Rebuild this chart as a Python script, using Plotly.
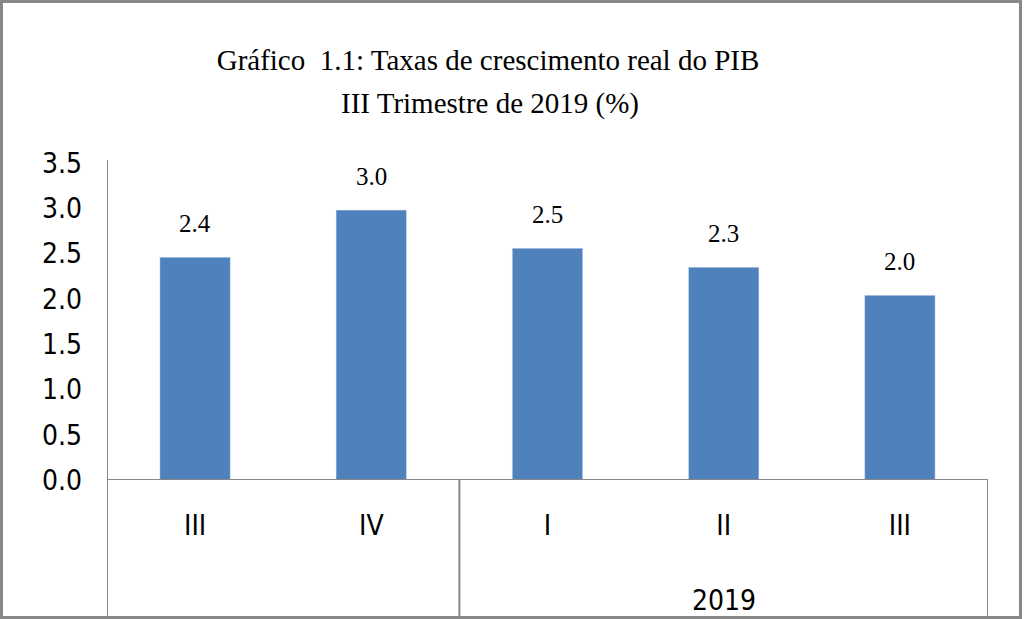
import plotly.graph_objects as go

quarters = ["III", "IV", "I", "II", "III"]
year_label = "2019"
values = [2.46, 2.98, 2.56, 2.35, 2.04]
value_labels = ["2.4", "3.0", "2.5", "2.3", "2.0"]
y_ticks = [0.0, 0.5, 1.0, 1.5, 2.0, 2.5, 3.0, 3.5]

W, H = 1024, 619
ML, MR, MT, MB = 107, 36, 163, 139
PW, PH = W - ML - MR, H - MT - MB
BASE = MT + PH  # pixel row of y=0

narrow = "Liberation Sans Narrow, Arial Narrow, DejaVu Sans Condensed, sans-serif"
serif = "Liberation Serif, Times New Roman, serif"
grey = "#888888"

def py(pix):
    """pixel row -> paper y"""
    return (BASE - pix) / PH

def px(pix):
    """pixel column -> paper x"""
    return (pix - ML) / PW

x = list(range(len(quarters)))

fig = go.Figure(go.Bar(x=x, y=values, marker_color="#4F81BD", width=0.4,
                       hoverinfo="skip"))

for xi, v, t in zip(x, values, value_labels):
    fig.add_annotation(x=xi, y=v, text=t, showarrow=False, yanchor="bottom",
                       yshift=18, font=dict(family=serif, size=25, color="black"))

# year label under group
fig.add_annotation(x=3, xref="x", y=py(600), yref="paper", text=year_label,
                   showarrow=False, yanchor="middle",
                   font=dict(family=narrow, size=28, color="black"))

# title second line
fig.add_annotation(x=px(490), xref="paper", y=py(103), yref="paper",
                   text="III Trimestre de 2019 (%)", showarrow=False, yanchor="middle",
                   font=dict(family=serif, size=29, color="black"))

shapes = [
    dict(type="line", xref="x", yref="y", x0=-0.5, x1=4.5, y0=0, y1=0,
         line=dict(color=grey, width=2)),
    dict(type="line", xref="x", yref="paper", x0=-0.5, x1=-0.5, y0=py(H), y1=py(160),
         line=dict(color=grey, width=2)),
    dict(type="line", xref="x", yref="paper", x0=1.5, x1=1.5, y0=py(H), y1=0,
         line=dict(color=grey, width=2)),
    dict(type="line", xref="x", yref="paper", x0=4.5, x1=4.5, y0=py(H), y1=0,
         line=dict(color=grey, width=2)),
    dict(type="rect", xref="paper", yref="paper",
         x0=px(1.5), x1=px(1020.5), y0=py(617.5), y1=py(1.5),
         line=dict(color=grey, width=3)),
]

fig.update_layout(
    shapes=shapes,
    width=W, height=H,
    margin=dict(l=ML, r=MR, t=MT, b=MB),
    paper_bgcolor="white", plot_bgcolor="white",
    showlegend=False,
    title=dict(text="Gráfico  1.1: Taxas de crescimento real do PIB",
               x=488 / W, xanchor="center", y=1 - 60 / H, yanchor="middle",
               font=dict(family=serif, size=29, color="black")),
    xaxis=dict(range=[-0.5, 4.5], tickmode="array", tickvals=x, ticktext=quarters,
               showgrid=False, zeroline=False, showline=False, ticks="",
               ticklabelstandoff=26,
               tickfont=dict(family=narrow, size=28, color="black"), fixedrange=True),
    yaxis=dict(range=[0, 3.5], tickmode="array", tickvals=y_ticks,
               ticktext=[f"{v:.1f}" for v in y_ticks],
               showgrid=False, zeroline=False, showline=False, ticks="",
               ticklabelstandoff=24,
               tickfont=dict(family=narrow, size=28, color="black"), fixedrange=True),
)

fig.write_html(
    "out.html",
    config={"displayModeBar": False},
    post_script="document.body.style.margin='0';document.body.style.overflow='hidden';",
)
